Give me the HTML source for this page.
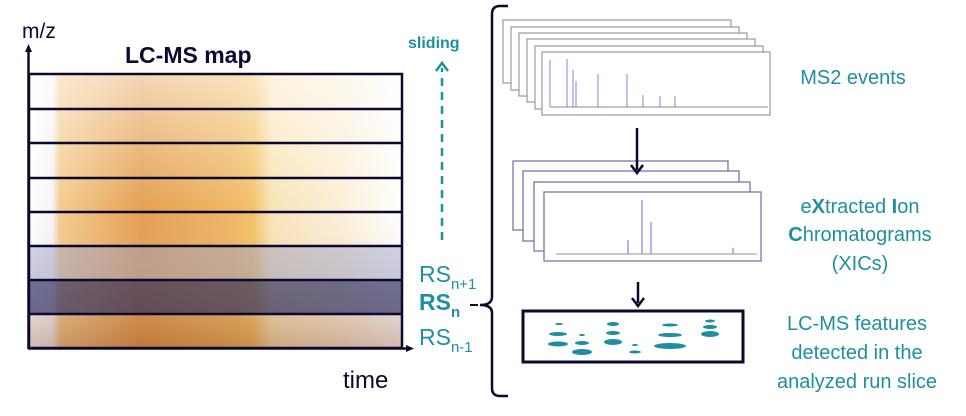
<!DOCTYPE html>
<html><head><style>body{margin:0;background:#fff}svg{display:block}text{font-family:"Liberation Sans",sans-serif}</style></head><body>
<svg width="966" height="416" viewBox="0 0 966 416" xmlns="http://www.w3.org/2000/svg">
<defs>
<linearGradient id="hx" x1="0" x2="1" y1="0" y2="0">
<stop offset="0" stop-color="#fff"/><stop offset="0.06" stop-color="#f6f3f6"/><stop offset="0.08" stop-color="#f3c98a"/>
<stop offset="0.3" stop-color="#e39a48"/><stop offset="0.55" stop-color="#eeb45c"/><stop offset="0.6" stop-color="#f2c060"/>
<stop offset="0.65" stop-color="#f9e3b4"/><stop offset="0.85" stop-color="#fbefd8"/><stop offset="1" stop-color="#fff"/>
</linearGradient>
<linearGradient id="hy" x1="0" x2="0" y1="0" y2="1">
<stop offset="0" stop-color="#fff" stop-opacity="0.6"/><stop offset="0.5" stop-color="#fff" stop-opacity="0.05"/><stop offset="1" stop-color="#7a3a20" stop-opacity="0.35"/>
</linearGradient>
</defs>
<rect x="30" y="75" width="372" height="272" fill="url(#hx)"/>
<rect x="30" y="75" width="372" height="272" fill="url(#hy)"/>
<rect x="30" y="246" width="373" height="34" fill="#9aa0c8" opacity="0.45"/>
<rect x="30" y="280" width="373" height="34" fill="#1a1f5a" opacity="0.6"/>
<g stroke="#0a0a30" stroke-width="2.5" fill="none">
<rect x="29" y="74" width="373" height="274"/>
<line x1="29" y1="109" x2="402" y2="109"/><line x1="29" y1="143" x2="402" y2="143"/>
<line x1="29" y1="178" x2="402" y2="178"/><line x1="29" y1="212" x2="402" y2="212"/>
<line x1="29" y1="246" x2="403" y2="246"/><line x1="29" y1="280" x2="403" y2="280"/>
<line x1="29" y1="314" x2="403" y2="314"/>
<line x1="28.5" y1="50" x2="28.5" y2="349"/><line x1="28" y1="348.5" x2="408" y2="348.5"/>
</g>
<polygon points="28.5,44 25,52 32,52" fill="#0a0a30"/>
<polygon points="414,348.5 406,345 406,352" fill="#0a0a30"/>
<text x="22" y="38" font-size="21" fill="#0a0a30">m/z</text>
<text x="125" y="63" font-size="23" font-weight="bold" fill="#0a0a30">LC-MS map</text>
<text x="343" y="388" font-size="24" fill="#0a0a30">time</text>
<text x="408" y="48" font-size="16" font-weight="bold" fill="#1e8fa0">sliding</text>
<line x1="442" y1="240" x2="442" y2="68" stroke="#1e8fa0" stroke-width="2.5" stroke-dasharray="8,6"/>
<polyline points="436,71 442,63 448,71" fill="none" stroke="#1e8fa0" stroke-width="2.5"/>
<g fill="#1e8fa0" font-size="23">
<text x="419" y="282">RS<tspan font-size="15" dy="7">n+1</tspan></text>
<text x="419" y="310" font-weight="bold">RS<tspan font-size="15" dy="7">n</tspan></text>
<text x="419" y="345">RS<tspan font-size="15" dy="7">n-1</tspan></text>
</g>
<line x1="470" y1="305" x2="478" y2="305" stroke="#0a0a30" stroke-width="2"/>
<path d="M508,6 H500 Q492,6 492,14 V297 Q492,305 480,305 Q492,305 492,313 V388 Q492,396 500,396 H508" fill="none" stroke="#0a0a30" stroke-width="2.5"/>
<g fill="#fff" stroke="#999" stroke-width="1.2">
<rect x="503" y="20" width="228" height="63"/><rect x="511" y="27" width="228" height="63"/>
<rect x="519" y="33" width="228" height="63"/><rect x="527" y="39" width="228" height="63"/>
<rect x="535" y="46" width="228" height="63"/><rect x="542" y="52" width="228" height="63"/>
</g>
<g stroke="#8080ee" stroke-width="1">
<line x1="550" y1="60" x2="550" y2="107"/><line x1="567" y1="59" x2="567" y2="107"/><line x1="573" y1="70" x2="573" y2="107"/>
<line x1="576" y1="81" x2="576" y2="107"/><line x1="598" y1="74" x2="598" y2="107"/><line x1="627" y1="74" x2="627" y2="107"/>
<line x1="643" y1="95" x2="643" y2="107"/><line x1="660" y1="96" x2="660" y2="107"/><line x1="675" y1="96" x2="675" y2="107"/>
<line x1="550" y1="107" x2="768" y2="107" stroke="#888"/>
</g>
<g fill="#fff" stroke="#7777aa" stroke-width="1.3">
<rect x="513" y="161" width="215" height="69"/><rect x="523" y="171" width="216" height="70"/>
<rect x="534" y="182" width="216" height="69"/><rect x="544" y="192" width="217" height="69"/>
</g>
<line x1="637" y1="128" x2="637" y2="170" stroke="#0a0a30" stroke-width="2.5"/>
<polyline points="631,165 637,173 643,165" fill="none" stroke="#0a0a30" stroke-width="2.5"/>
<g stroke="#8080ee" stroke-width="1.2">
<line x1="642" y1="200" x2="642" y2="254"/><line x1="651" y1="222" x2="651" y2="254"/><line x1="628" y1="240" x2="628" y2="254"/>
<line x1="733" y1="248" x2="733" y2="254"/><line x1="556" y1="254" x2="757" y2="254" stroke="#aaa"/>
</g>
<line x1="638" y1="282" x2="638" y2="303" stroke="#0a0a30" stroke-width="2.5"/>
<polyline points="632,298 638,306 644,298" fill="none" stroke="#0a0a30" stroke-width="2.5"/>
<rect x="523" y="311" width="220" height="51" fill="#fff" stroke="#0a0a30" stroke-width="3"/>
<g fill="#1e8fa0">
<ellipse cx="559" cy="324" rx="4" ry="1"/><ellipse cx="558" cy="334" rx="9" ry="2"/><ellipse cx="558" cy="344" rx="10" ry="2.5"/>
<ellipse cx="582" cy="335" rx="3" ry="1"/><ellipse cx="582" cy="343" rx="7" ry="2"/><ellipse cx="582" cy="352" rx="10" ry="3"/>
<ellipse cx="613" cy="324" rx="6" ry="2"/><ellipse cx="613" cy="333" rx="7" ry="2"/><ellipse cx="613" cy="342" rx="9" ry="3"/>
<ellipse cx="635" cy="345" rx="3" ry="1"/><ellipse cx="635" cy="352" rx="6" ry="1.5"/>
<ellipse cx="670" cy="325" rx="8" ry="1.5"/><ellipse cx="670" cy="335" rx="12" ry="2"/><ellipse cx="670" cy="346" rx="16" ry="3"/>
<ellipse cx="710" cy="321" rx="5" ry="1.5"/><ellipse cx="710" cy="327" rx="7" ry="2"/><ellipse cx="710" cy="334" rx="9" ry="3"/>
</g>
<g fill="#1e8fa0" font-size="20" text-anchor="middle">
<text x="853" y="84">MS2 events</text>
<text x="860" y="213">e<tspan font-weight="bold">X</tspan>tracted <tspan font-weight="bold">I</tspan>on</text>
<text x="860" y="241"><tspan font-weight="bold">C</tspan>hromatograms</text>
<text x="860" y="270">(XICs)</text>
<text x="857" y="330">LC-MS features</text>
<text x="857" y="359">detected in the</text>
<text x="857" y="388">analyzed run slice</text>
</g>
</svg>
</body></html>
